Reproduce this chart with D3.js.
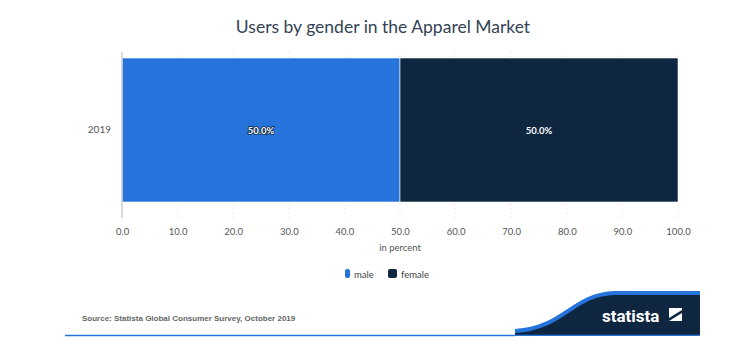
<!DOCTYPE html>
<html>
<head>
<meta charset="utf-8">
<script src="https://cdn.jsdelivr.net/npm/d3@7"></script>
<style>
  body { margin: 0; background: #fff; }
  svg { display: block; font-family: Lato, "Open Sans", sans-serif; }
</style>
</head>
<body>
<div id="chart"></div>
<script>
var years = ["2019"];
var genders = ["male", "female"];
var shares = [[50.0, 50.0]];
var tickValues = [0, 10, 20, 30, 40, 50, 60, 70, 80, 90, 100];
var colors = ["#2673db", "#0f2640"];

(function(){
	var width = 744, height = 364;
	var pLeft = 122, pRight = 678, pTop = 52, pBottom = 218;

	var svg = d3.select("#chart").append("svg")
		.attr("width", width)
		.attr("height", height);

	svg.append("text")
		.attr("x", 383).attr("y", 33)
		.attr("text-anchor", "middle")
		.attr("font-size", 17.5)
		.attr("fill", "#334355")
		.text("Users by gender in the Apparel Market");

	var x = d3.scaleLinear().domain([0, 100]).range([pLeft, pRight]);
	var y = d3.scaleBand().domain(years).range([58, 202]).padding(0);

	// dotted grid
	svg.append("g").selectAll("line")
		.data(tickValues.slice(1))
		.enter().append("line")
		.attr("x1", function(d){ return x(d); })
		.attr("x2", function(d){ return x(d); })
		.attr("y1", pTop).attr("y2", pBottom)
		.attr("stroke", "#e3e3e3")
		.attr("stroke-dasharray", "1,3");

	// stacked bars
	var stacked = [];
	years.forEach(function(yr, i){
		var acc = 0;
		shares[i].forEach(function(v, j){
			stacked.push({year: yr, gender: genders[j], x0: acc, x1: acc + v, v: v, k: j});
			acc += v;
		});
	});

	svg.append("g").selectAll("rect")
		.data(stacked)
		.enter().append("rect")
		.attr("x", function(d){ return x(d.x0); })
		.attr("width", function(d){ return x(d.x1) - x(d.x0); })
		.attr("y", function(d){ return y(d.year); })
		.attr("height", y.bandwidth())
		.attr("fill", function(d){ return colors[d.k]; })
		.attr("stroke", "#fff")
		.attr("stroke-width", 0.6);

	svg.append("g").selectAll("text")
		.data(stacked)
		.enter().append("text")
		.attr("x", function(d){ return x((d.x0 + d.x1) / 2); })
		.attr("y", function(d){ return y(d.year) + y.bandwidth() / 2 + 3.5; })
		.attr("text-anchor", "middle")
		.attr("font-size", 9.5)
		.attr("font-weight", "bold")
		.attr("fill", "#fff")
		.attr("stroke", "#0f2640")
		.attr("stroke-width", 1.6)
		.attr("paint-order", "stroke")
		.text(function(d){ return d.v.toFixed(1) + "%"; });

	// left axis line
	svg.append("line")
		.attr("x1", pLeft).attr("x2", pLeft)
		.attr("y1", pTop).attr("y2", pBottom)
		.attr("stroke", "#cccccc").attr("stroke-width", 1.5);

	// y labels
	var yAxis = svg.append("g")
		.attr("transform", "translate(" + (pLeft - 11) + ",0)")
		.call(d3.axisLeft(y).tickSize(0).tickPadding(0));
	yAxis.select(".domain").remove();
	yAxis.selectAll("text")
		.attr("font-family", "Lato, 'Open Sans', sans-serif")
		.attr("font-size", 10).attr("fill", "#555");

	// x labels
	var xAxis = svg.append("g")
		.attr("transform", "translate(0," + (pBottom + 10) + ")")
		.call(d3.axisBottom(x).tickValues(tickValues).tickSize(0).tickPadding(0)
			.tickFormat(function(d){ return d.toFixed(1); }));
	xAxis.select(".domain").remove();
	xAxis.selectAll("text")
		.attr("font-family", "Lato, 'Open Sans', sans-serif")
		.attr("font-size", 9.5).attr("fill", "#555");

	svg.append("text")
		.attr("x", x(50)).attr("y", 251)
		.attr("text-anchor", "middle")
		.attr("font-size", 9.5).attr("fill", "#555")
		.text("in percent");

	// legend
	var legendX = [345, 388];
	var lg = svg.append("g").selectAll("g")
		.data(genders)
		.enter().append("g")
		.attr("transform", function(d, i){ return "translate(" + legendX[i] + ",269)"; });
	lg.append("rect")
		.attr("width", function(d, i){ return i === 0 ? 5 : 9; })
		.attr("height", 9).attr("rx", 2)
		.attr("fill", function(d, i){ return colors[i]; });
	lg.append("text")
		.attr("x", function(d, i){ return i === 0 ? 9 : 13; })
		.attr("y", 8.5)
		.attr("font-size", 9.5).attr("fill", "#444")
		.text(function(d){ return d; });

	// footer
	svg.append("text")
		.attr("x", 82).attr("y", 321)
		.attr("font-family", "'Liberation Sans', Arial, sans-serif")
		.attr("font-size", 8).attr("font-weight", "bold").attr("fill", "#666")
		.text("Source: Statista Global Consumer Survey, October 2019");

	svg.append("path")
		.attr("d", "M515,331 C565,328 572,294 615,293 L700,293 L700,337 L515,337 Z")
		.attr("fill", "#0f2640");
	svg.append("path")
		.attr("d", "M515,331 C565,328 572,294 615,293 L700,293")
		.attr("fill", "none")
		.attr("stroke", "#2673db").attr("stroke-width", 4);
	svg.append("line")
		.attr("x1", 65).attr("x2", 700)
		.attr("y1", 335.5).attr("y2", 335.5)
		.attr("stroke", "#2673db").attr("stroke-width", 1.5);
	svg.append("rect")
		.attr("x", 515).attr("y", 336).attr("width", 185).attr("height", 3)
		.attr("fill", "#fff");

	svg.append("text")
		.attr("x", 602).attr("y", 322)
		.attr("font-family", "Roboto, sans-serif")
		.attr("font-size", 17).attr("font-weight", "bold")
		.attr("fill", "#fff")
		.text("statista");
	var logo = svg.append("g").attr("transform", "translate(669,308)");
	logo.append("rect").attr("width", 13).attr("height", 13).attr("fill", "#fff");
	logo.append("path")
		.attr("d", "M0,10 L13,2 L13,5 L0,13 Z")
		.attr("fill", "#0f2640");
})();
</script>
</body>
</html>
